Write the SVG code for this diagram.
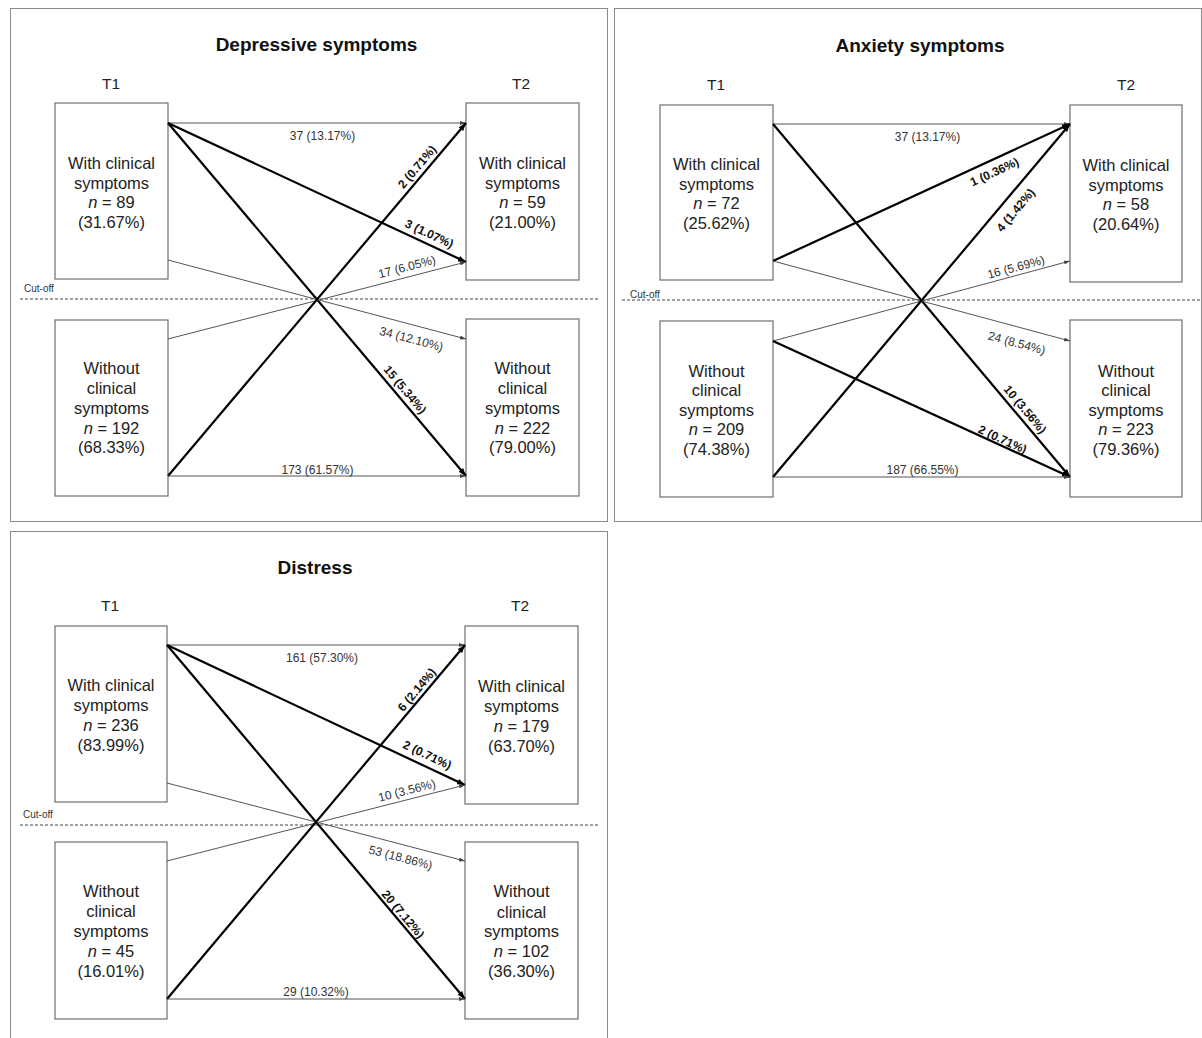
<svg xmlns="http://www.w3.org/2000/svg" width="1202" height="1038" viewBox="0 0 1202 1038">
<style>
text{font-family:"Liberation Sans",Arial,sans-serif}
.frame{fill:none;stroke:#8a8a8a;stroke-width:1}
.box{fill:#fff;stroke:#6e6e6e;stroke-width:1.2}
.title{font-size:19px;font-weight:bold;text-anchor:middle;fill:#111}
.tp{font-size:15.5px;text-anchor:middle;fill:#222}
.bt{font-size:16.5px;text-anchor:middle;fill:#222}
.lab{font-size:12px;text-anchor:middle;fill:#333}
.lb{font-size:12px;text-anchor:middle;font-weight:bold;fill:#111}
.thin{stroke:#555;stroke-width:1;fill:none;marker-end:url(#ag)}
.thick{stroke:#000;stroke-width:2.2;fill:none;marker-end:url(#ab)}
.cut{stroke:#444;stroke-width:1;stroke-dasharray:3 2}
.co{font-size:10px;fill:#333}
</style>
<defs>
<marker id="ab" markerUnits="userSpaceOnUse" markerWidth="8" markerHeight="6" refX="8" refY="3" orient="auto"><path d="M0,0 L8,3 L0,6 z" fill="#000"/></marker>
<marker id="ag" markerUnits="userSpaceOnUse" markerWidth="6" markerHeight="4" refX="6" refY="2" orient="auto"><path d="M0,0 L6,2 L0,4 z" fill="#444"/></marker>
</defs>
<rect width="1202" height="1038" fill="#fff"/>

<!-- Panel 1: Depressive symptoms -->
<g id="panel-depressive">
<rect class="frame" x="10.5" y="8.5" width="597" height="513"/>
<text class="title" x="316.5" y="51">Depressive symptoms</text>
<text class="tp" x="111" y="89">T1</text>
<text class="tp" x="521" y="89">T2</text>
<line class="cut" x1="20" y1="299" x2="598" y2="299"/>
<text class="co" x="24" y="292">Cut-off</text>
</g>
<g id="dep-t1-with"><rect class="box" x="55" y="103" width="113" height="176"/>
<text class="bt" x="111.5" y="169">With clinical</text><text class="bt" x="111.5" y="189">symptoms</text><text class="bt" x="111.5" y="208"><tspan font-style="italic">n</tspan> = 89</text><text class="bt" x="111.5" y="228">(31.67%)</text></g>
<g id="dep-t1-without"><rect class="box" x="55" y="320" width="113" height="176"/>
<text class="bt" x="111.5" y="374">Without</text><text class="bt" x="111.5" y="394">clinical</text><text class="bt" x="111.5" y="414">symptoms</text><text class="bt" x="111.5" y="434"><tspan font-style="italic">n</tspan> = 192</text><text class="bt" x="111.5" y="453">(68.33%)</text></g>
<g id="dep-t2-with"><rect class="box" x="466" y="103" width="113" height="177"/>
<text class="bt" x="522.5" y="169">With clinical</text><text class="bt" x="522.5" y="189">symptoms</text><text class="bt" x="522.5" y="208"><tspan font-style="italic">n</tspan> = 59</text><text class="bt" x="522.5" y="228">(21.00%)</text></g>
<g id="dep-t2-without"><rect class="box" x="466" y="319" width="113" height="177"/>
<text class="bt" x="522.5" y="374">Without</text><text class="bt" x="522.5" y="394">clinical</text><text class="bt" x="522.5" y="414">symptoms</text><text class="bt" x="522.5" y="434"><tspan font-style="italic">n</tspan> = 222</text><text class="bt" x="522.5" y="453">(79.00%)</text></g>

<!-- Panel 2: Anxiety symptoms -->
<g id="panel-anxiety">
<rect class="frame" x="614.5" y="8.5" width="587" height="513"/>
<text class="title" x="920" y="52">Anxiety symptoms</text>
<text class="tp" x="716" y="90">T1</text>
<text class="tp" x="1126" y="90">T2</text>
<line class="cut" x1="622" y1="300" x2="1200" y2="300"/>
<text class="co" x="630" y="298">Cut-off</text>
</g>
<g id="anx-t1-with"><rect class="box" x="660" y="105" width="113" height="175"/>
<text class="bt" x="716.5" y="170">With clinical</text><text class="bt" x="716.5" y="190">symptoms</text><text class="bt" x="716.5" y="209"><tspan font-style="italic">n</tspan> = 72</text><text class="bt" x="716.5" y="229">(25.62%)</text></g>
<g id="anx-t1-without"><rect class="box" x="660" y="321" width="113" height="176"/>
<text class="bt" x="716.5" y="377">Without</text><text class="bt" x="716.5" y="396">clinical</text><text class="bt" x="716.5" y="416">symptoms</text><text class="bt" x="716.5" y="435"><tspan font-style="italic">n</tspan> = 209</text><text class="bt" x="716.5" y="455">(74.38%)</text></g>
<g id="anx-t2-with"><rect class="box" x="1070" y="105" width="112" height="177"/>
<text class="bt" x="1126" y="171">With clinical</text><text class="bt" x="1126" y="191">symptoms</text><text class="bt" x="1126" y="210"><tspan font-style="italic">n</tspan> = 58</text><text class="bt" x="1126" y="230">(20.64%)</text></g>
<g id="anx-t2-without"><rect class="box" x="1070" y="320" width="112" height="177"/>
<text class="bt" x="1126" y="377">Without</text><text class="bt" x="1126" y="396">clinical</text><text class="bt" x="1126" y="416">symptoms</text><text class="bt" x="1126" y="435"><tspan font-style="italic">n</tspan> = 223</text><text class="bt" x="1126" y="455">(79.36%)</text></g>

<!-- Panel 3: Distress -->
<g id="panel-distress">
<rect class="frame" x="10.5" y="531.5" width="597" height="520"/>
<text class="title" x="315" y="574">Distress</text>
<text class="tp" x="110" y="611">T1</text>
<text class="tp" x="520" y="611">T2</text>
<line class="cut" x1="20" y1="825" x2="598" y2="825"/>
<text class="co" x="23" y="818">Cut-off</text>
</g>
<g id="dis-t1-with"><rect class="box" x="55" y="626" width="112" height="176"/>
<text class="bt" x="111" y="691">With clinical</text><text class="bt" x="111" y="711">symptoms</text><text class="bt" x="111" y="731"><tspan font-style="italic">n</tspan> = 236</text><text class="bt" x="111" y="751">(83.99%)</text></g>
<g id="dis-t1-without"><rect class="box" x="55" y="842" width="112" height="177"/>
<text class="bt" x="111" y="897">Without</text><text class="bt" x="111" y="917">clinical</text><text class="bt" x="111" y="937">symptoms</text><text class="bt" x="111" y="957"><tspan font-style="italic">n</tspan> = 45</text><text class="bt" x="111" y="977">(16.01%)</text></g>
<g id="dis-t2-with"><rect class="box" x="465" y="626" width="113" height="178"/>
<text class="bt" x="521.5" y="692">With clinical</text><text class="bt" x="521.5" y="712">symptoms</text><text class="bt" x="521.5" y="732"><tspan font-style="italic">n</tspan> = 179</text><text class="bt" x="521.5" y="752">(63.70%)</text></g>
<g id="dis-t2-without"><rect class="box" x="465" y="842" width="113" height="177"/>
<text class="bt" x="521.5" y="897">Without</text><text class="bt" x="521.5" y="918">clinical</text><text class="bt" x="521.5" y="937">symptoms</text><text class="bt" x="521.5" y="957"><tspan font-style="italic">n</tspan> = 102</text><text class="bt" x="521.5" y="977">(36.30%)</text></g>

<!-- Connectors -->
<g id="connectors">
<!-- Panel 1 -->
<line class="thin" x1="168" y1="123" x2="466" y2="123"/>
<line class="thick" x1="168" y1="123" x2="466" y2="262"/>
<line class="thick" x1="168" y1="123" x2="466" y2="476"/>
<line class="thin" x1="168" y1="260" x2="466" y2="339"/>
<line class="thin" x1="168" y1="339" x2="466" y2="262"/>
<line class="thick" x1="168" y1="476" x2="466" y2="123"/>
<line class="thin" x1="168" y1="476" x2="466" y2="476"/>
<text class="lab" x="322.5" y="140">37 (13.17%)</text>
<text class="lab" x="317.5" y="474">173 (61.57%)</text>
<text class="lb" transform="translate(425,242.9) rotate(25)" y="-6">3 (1.07%)</text>
<text class="lb" transform="translate(398,395.5) rotate(49.8)" y="-5">15 (5.34%)</text>
<text class="lab" transform="translate(414.9,325.4) rotate(14.85)" y="18">34 (12.10%)</text>
<text class="lab" transform="translate(409.5,276.6) rotate(-14.5)" y="-6">17 (6.05%)</text>
<text class="lb" transform="translate(424,172.7) rotate(-49.8)" y="-5">2 (0.71%)</text>
<!-- Panel 2 -->
<line class="thin" x1="773" y1="124" x2="1070" y2="124"/>
<line class="thick" x1="773" y1="124" x2="1070" y2="477"/>
<line class="thick" x1="773" y1="261" x2="1070" y2="124"/>
<line class="thin" x1="773" y1="261" x2="1070" y2="341"/>
<line class="thin" x1="773" y1="341" x2="1070" y2="261"/>
<line class="thick" x1="773" y1="341" x2="1070" y2="477"/>
<line class="thick" x1="773" y1="477" x2="1070" y2="124"/>
<line class="thin" x1="773" y1="477" x2="1070" y2="477"/>
<text class="lab" x="927.5" y="141">37 (13.17%)</text>
<text class="lab" x="922.5" y="474">187 (66.55%)</text>
<text class="lb" transform="translate(989.5,161.1) rotate(-24.8)" y="16">1 (0.36%)</text>
<text class="lb" transform="translate(1005,201.2) rotate(-49.9)" y="18">4 (1.42%)</text>
<text class="lab" transform="translate(1018,275) rotate(-15.1)" y="-4">16 (5.69%)</text>
<text class="lab" transform="translate(1020.9,327.7) rotate(15.1)" y="20">24 (8.54%)</text>
<text class="lb" transform="translate(1018,415.2) rotate(49.9)" y="-5">10 (3.56%)</text>
<text class="lb" transform="translate(1000,445) rotate(24.6)" y="-2">2 (0.71%)</text>
<!-- Panel 3 -->
<line class="thin" x1="167" y1="645" x2="465" y2="645"/>
<line class="thick" x1="167" y1="645" x2="465" y2="785"/>
<line class="thick" x1="167" y1="645" x2="465" y2="999"/>
<line class="thin" x1="167" y1="783" x2="465" y2="861"/>
<line class="thin" x1="167" y1="861" x2="465" y2="785"/>
<line class="thick" x1="167" y1="999" x2="465" y2="645"/>
<line class="thin" x1="167" y1="999" x2="465" y2="999"/>
<text class="lab" x="322" y="662">161 (57.30%)</text>
<text class="lab" x="316" y="996">29 (10.32%)</text>
<text class="lb" transform="translate(423,694.9) rotate(-49.9)" y="-4">6 (2.14%)</text>
<text class="lb" transform="translate(422.5,765) rotate(25.2)" y="-7">2 (0.71%)</text>
<text class="lab" transform="translate(409.1,799.3) rotate(-14.3)" y="-5">10 (3.56%)</text>
<text class="lab" transform="translate(403.9,845) rotate(14.7)" y="17">53 (18.86%)</text>
<text class="lb" transform="translate(397.5,918.8) rotate(49.9)" y="-3">20 (7.12%)</text>
</g>
</svg>
